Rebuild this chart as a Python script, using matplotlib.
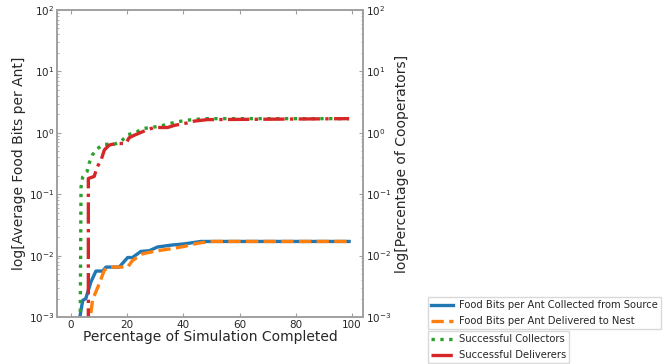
import matplotlib
matplotlib.use("Agg")
import matplotlib.pyplot as plt

# Food bits per ant collected from source (blue)
x_collected = [3, 4.2, 5.3, 7.1, 8.9, 11.3, 12.5, 17.2, 20.2, 21.9, 24.9, 27.9, 30.8, 35.6, 40.3, 46.3, 99]
y_collected = [0.00089, 0.00186, 0.0020, 0.0037, 0.0056, 0.0056, 0.0065, 0.0065, 0.0093, 0.0093,
               0.0117, 0.0120, 0.0138, 0.0148, 0.0155, 0.0170, 0.0170]

# Food bits per ant delivered to nest (orange)
x_delivered = [6.3, 7.7, 10.1, 11.9, 13.6, 20.2, 21.9, 25.5, 30.8, 35.6, 40.3, 42.7, 46.3, 50.4, 99]
y_delivered = [0.0006, 0.0019, 0.0035, 0.0058, 0.0065, 0.0065, 0.0083, 0.0107, 0.0120, 0.0129,
               0.0141, 0.0151, 0.0162, 0.0170, 0.0170]

# Successful collectors (green)
x_collectors = [3.2, 3.6, 4.2, 5.7, 6.5, 7.7, 9.3, 11.9, 15.4, 17.8, 20.2, 23.1, 25.5, 28.5, 32, 35, 38, 41, 47.4, 99]
y_collectors = [0.0001, 0.13, 0.19, 0.23, 0.32, 0.44, 0.55, 0.65, 0.65, 0.72, 0.93, 1.01, 1.17, 1.22,
                1.29, 1.41, 1.51, 1.60, 1.70, 1.70]

# Successful deliverers (red)
x_deliverers = [6.2, 6.2, 8.3, 9.3, 10.7, 11.9, 13.6, 16, 19.6, 20.7, 22.5, 26.7, 29.6, 34.4, 36.8, 41.5, 43.9, 48.6, 99]
y_deliverers = [0.0001, 0.18, 0.195, 0.275, 0.355, 0.525, 0.63, 0.67, 0.67, 0.83, 0.91, 1.10, 1.22, 1.22,
                1.32, 1.45, 1.55, 1.64, 1.70]

x_ticks = [0, 20, 40, 60, 80, 100]

label_collected = "Food Bits per Ant Collected from Source"
label_delivered = "Food Bits per Ant Delivered to Nest"
label_collectors = "Successful Collectors"
label_deliverers = "Successful Deliverers"

spine_c = "#a0a0a0"
text_c = "#262626"

fig = plt.figure(figsize=(6.63, 3.64), dpi=100)
ax = fig.add_axes([57/663, 1 - 317/364, 306/663, 307/364])
ax2 = ax.twinx()

lw = 2.4
l1, = ax.plot(x_collected, y_collected, color="#1f77b4", lw=lw, ls="-", label=label_collected)
l2, = ax.plot(x_delivered, y_delivered, color="#ff7f0e", lw=lw, ls="--", label=label_delivered)
l3, = ax2.plot(x_collectors, y_collectors, color="#2ca02c", lw=lw, ls=":", label=label_collectors)
l4, = ax2.plot(x_deliverers, y_deliverers, color="#d62728", lw=lw, ls="-.", label=label_deliverers)

for a in (ax, ax2):
    a.set_yscale("log")
    a.set_ylim(1e-3, 1e2)
    a.set_xlim(-4.95, 103.95)
    for s in a.spines.values():
        s.set_color(spine_c)
        s.set_linewidth(1.2)
    a.tick_params(which="both", direction="in", colors=spine_c, labelcolor=text_c,
                  labelsize=7.5, pad=1.8)
    a.tick_params(which="major", length=3)
    a.tick_params(which="minor", length=1.5)

ax.set_xticks(x_ticks)
ax.tick_params(axis="x", top=True)
ax.set_xlabel("Percentage of Simulation Completed", fontsize=10, color=text_c, labelpad=0)
ax.set_ylabel("log[Average Food Bits per Ant]", fontsize=10, color=text_c, labelpad=2)
ax2.set_ylabel("log[Percentage of Cooperators]", fontsize=10, color=text_c, labelpad=3)

leg_kw = dict(loc="upper left", fontsize=7.2, frameon=True, fancybox=False, borderaxespad=0,
              handlelength=2.2, borderpad=0.3, labelspacing=0.6, handletextpad=0.6)
leg1 = fig.legend(handles=[l1, l2], bbox_to_anchor=(428/663, 1 - 297/364), **leg_kw)
leg2 = fig.legend(handles=[l3, l4], bbox_to_anchor=(428/663, 1 - 331/364), **leg_kw)
for lg in (leg1, leg2):
    lg.get_frame().set_edgecolor("#d0d0d0")
    for t in lg.get_texts():
        t.set_color(text_c)

fig.savefig("out.png", dpi=100)
